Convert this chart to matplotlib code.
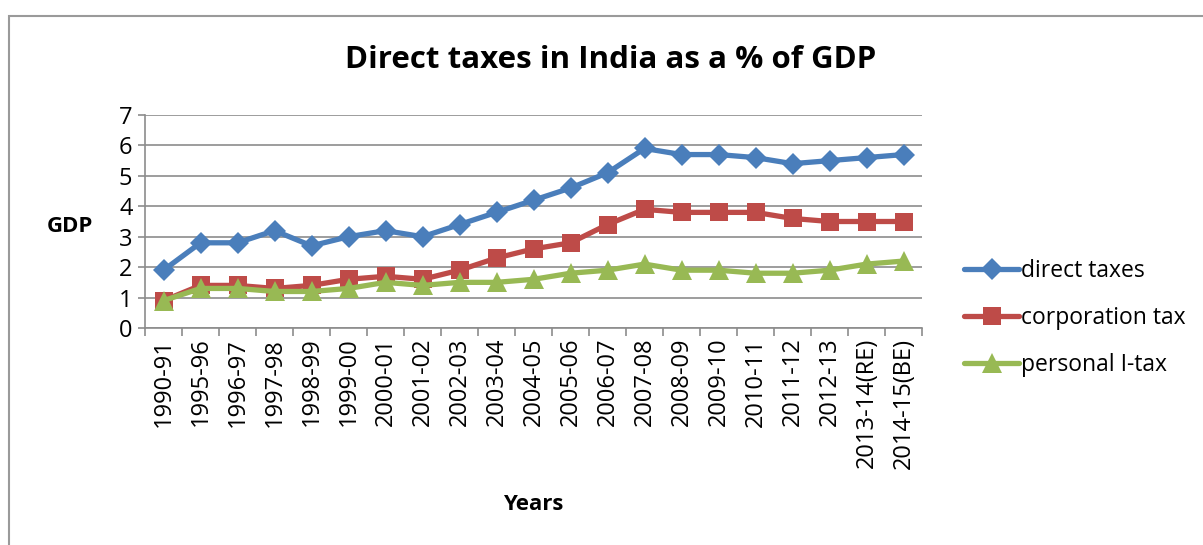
import matplotlib
matplotlib.use("Agg")
import matplotlib.pyplot as plt
from matplotlib.patches import Rectangle
import numpy as np

# ── Data: direct taxes as % of GDP
years = ["1990-91", "1995-96", "1996-97", "1997-98", "1998-99", "1999-00",
         "2000-01", "2001-02", "2002-03", "2003-04", "2004-05", "2005-06",
         "2006-07", "2007-08", "2008-09", "2009-10", "2010-11", "2011-12",
         "2012-13", "2013-14(RE)", "2014-15(BE)"]
direct_taxes = [1.9, 2.8, 2.8, 3.2, 2.7, 3.0, 3.2, 3.0, 3.4, 3.8, 4.2,
                4.6, 5.1, 5.9, 5.7, 5.7, 5.6, 5.4, 5.5, 5.6, 5.7]
corporation_tax = [0.9, 1.4, 1.4, 1.3, 1.4, 1.6, 1.7, 1.6, 1.9, 2.3, 2.6,
                   2.8, 3.4, 3.9, 3.8, 3.8, 3.8, 3.6, 3.5, 3.5, 3.5]
personal_itax = [0.9, 1.3, 1.3, 1.2, 1.2, 1.3, 1.5, 1.4, 1.5, 1.5, 1.6,
                 1.8, 1.9, 2.1, 1.9, 1.9, 1.8, 1.8, 1.9, 2.1, 2.2]

plt.rcParams["font.family"] = ["Open Sans", "DejaVu Sans"]

GRID = "#8c8c8c"

fig = plt.figure(figsize=(12.03, 5.45), dpi=100)
fig.patches.append(Rectangle((9 / 1203, -0.1), 1.2, 1 - 16 / 545 + 0.1,
                             transform=fig.transFigure, fill=False,
                             edgecolor="#9a9a9a", linewidth=1.5))

ax = fig.add_axes([145 / 1203, 1 - 328 / 545, 777 / 1203, 213 / 545])

x = np.arange(len(years))
series = [
    (direct_taxes, "direct taxes", "#4A7EBB", "D", 11),
    (corporation_tax, "corporation tax", "#BE4B48", "s", 13),
    (personal_itax, "personal I-tax", "#98B954", "^", 14),
]
for vals, label, color, marker, ms in series:
    ax.plot(x, vals, color=color, linewidth=3.8, marker=marker,
            markersize=ms, markeredgewidth=0, label=label,
            solid_capstyle="round")

ax.set_xlim(-0.5, len(years) - 0.5)
ax.set_ylim(0, 7)
ax.set_yticks(range(0, 8))
ax.set_xticks(x)
ax.set_xticklabels(years, rotation=90, fontsize=17)
ax.set_xticks(np.arange(-0.5, len(years)), minor=True)
ax.tick_params(axis="x", which="major", length=0, pad=7)
ax.tick_params(axis="x", which="minor", length=6, color=GRID, width=1.2)
ax.tick_params(axis="y", labelsize=17, length=5, color=GRID, width=1.2, pad=4)

ax.grid(axis="y", color=GRID, linewidth=1.2)
ax.set_axisbelow(True)
for side in ["top", "right"]:
    ax.spines[side].set_visible(False)
for side in ["left", "bottom"]:
    ax.spines[side].set_color(GRID)
    ax.spines[side].set_linewidth(1.2)

fig.text(611 / 1203, 1 - 60 / 545, "Direct taxes in India as a % of GDP",
         ha="center", va="center", fontsize=22.5, fontweight="bold")
fig.text(70 / 1203, 1 - 226 / 545, "GDP", ha="center", va="center",
         fontsize=16, fontweight="bold")
fig.text(533 / 1203, 1 - 505 / 545, "Years", ha="center", va="center",
         fontsize=16, fontweight="bold")

fig.legend(loc="center left", bbox_to_anchor=(955 / 1203, 1 - 318 / 545),
           frameon=False, fontsize=16.5, handlelength=2.4, handletextpad=0.1,
           labelspacing=1.0, borderaxespad=0)

fig.savefig("out.png", dpi=100)
